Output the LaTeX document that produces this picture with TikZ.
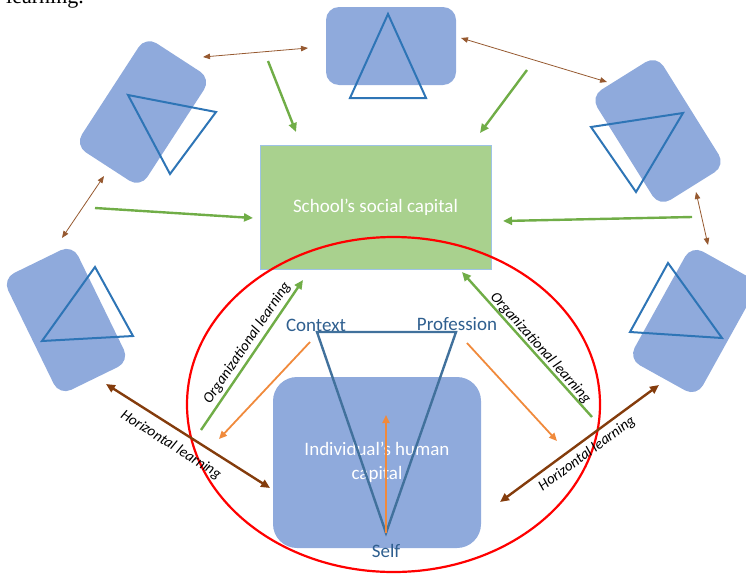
\documentclass[tikz,border=0pt]{standalone}
\usepackage{fontspec}
\setmainfont{Carlito}
\newfontfamily\docfont{Liberation Serif}
\usetikzlibrary{positioning, arrows.meta, shapes.geometric}

\definecolor{peerblue}{HTML}{8FAADC}
\definecolor{triblue}{HTML}{2E75B6}
\definecolor{coreblue}{HTML}{41719C}
\definecolor{coretext}{HTML}{2F5F8F}
\definecolor{leafgreen}{HTML}{70AD47}
\definecolor{boxgreen}{HTML}{A9D18E}
\definecolor{boxedge}{HTML}{9DC3E6}
\definecolor{flow}{HTML}{F08A3C}
\definecolor{bark}{HTML}{843C0C}

\tikzstyle{Link} = [draw=bark!85!white, line width=0.8pt,
    >={Triangle[length=7pt, width=5.5pt]}, <->]
\tikzstyle{Feed} = [draw=leafgreen, line width=2.4pt,
    >={Triangle[length=9pt, width=8pt]}, ->]
\tikzstyle{Peer} = [draw=bark, line width=2.4pt,
    >={Triangle[length=9pt, width=8pt]}, <->]
\tikzstyle{Flow} = [draw=flow, line width=1.8pt,
    >={Triangle[length=8pt, width=7pt]}, ->]

\begin{document}
\begin{tikzpicture}[x=1pt, y=-1pt,
peer/.style = {rectangle, fill=peerblue, rounded corners=13pt,
    minimum width=130pt, minimum height=78pt, inner sep=0pt},
tri/.style = {draw=triblue, line width=2pt},
big/.style = {font=\fontsize{19}{24}\selectfont, text=white, align=center},
tag/.style = {font=\fontsize{19}{24}\selectfont, text=coretext,
    inner sep=0pt, anchor=base},
lbl/.style = {font=\fontsize{15}{17}\selectfont\itshape, sloped, inner sep=2pt}
]

\useasboundingbox (0,0) rectangle (746,573);

% end of the text line above the figure
\node[anchor=base west, inner sep=0pt, font=\docfont\fontsize{22}{26}\selectfont]
    (prev) at (6,3) {learning.};

% the other teachers
\node[peer, rotate=57] (peerTL) at (143,112) {};
\node[peer] (peerT) at (391,46) {};
\node[peer, rotate=-58] (peerTR) at (658,131) {};
\node[peer, rotate=-64] (peerL) at (66,320) {};
\node[peer, rotate=61] (peerR) at (694,321) {};

\draw[tri] (128,95) -- (216,112) -- (170,174) -- cycle;
\draw[tri] (388,14) -- (426,98) -- (350,98) -- cycle;
\draw[tri] (591,127) -- (683,113) -- (636,192) -- cycle;
\draw[tri] (95,267) -- (133,336) -- (42,341) -- cycle;
\draw[tri] (668,263) -- (722,338) -- (630,332) -- cycle;

\coordinate (tl-t) at (203,57);  \coordinate (t-tl) at (308,48);
\coordinate (t-tr) at (461,38);  \coordinate (tr-t) at (607,82);
\coordinate (tr-r) at (696,192); \coordinate (r-tr) at (708,245);
\coordinate (tl-l) at (104,176); \coordinate (l-tl) at (62,238);

\draw[Link] (tl-t) -- (t-tl);
\draw[Link] (t-tr) -- (tr-t);
\draw[Link] (tr-r) -- (r-tr);
\draw[Link] (tl-l) -- (l-tl);

% school
\node[rectangle, fill=boxgreen, draw=boxedge, line width=0.8pt,
    minimum width=231pt, minimum height=124pt, big] (social) at (375.5,207)
    {School’s social capital};

\coordinate (tl-s) at (268,61);  \coordinate (s-tl) at (296,132);
\coordinate (tr-s) at (527,70);  \coordinate (s-tr) at (480,133);
\coordinate (l-s) at (95,208);   \coordinate (s-l) at (253,218);
\coordinate (r-s) at (692,217);  \coordinate (s-r) at (503,221);

\draw[Feed] (tl-s) -- (s-tl);
\draw[Feed] (tr-s) -- (s-tr);
\draw[Feed] (l-s) -- (s-l);
\draw[Feed] (r-s) -- (s-r);

\node[ellipse, draw=red, line width=2.2pt, minimum width=413pt,
    minimum height=335pt, inner sep=0pt] (ring) at (393.5,404.5) {};

% individual
\node[rectangle, rounded corners=24pt, fill=peerblue, minimum width=208pt,
    minimum height=171pt, big] (human) at (377,462.5)
    {Individual’s human\\capital};

\coordinate (ctx) at (317,332);
\coordinate (prof) at (456,332);
\coordinate (self) at (386,533);
\draw[draw=coreblue, line width=2.4pt] (ctx) -- (prof) -- (self) -- cycle;

\node[tag] (ctxname) at (316,331.5) {Context};
\node[tag] (profname) at (457,330) {Profession};
\node[tag] (selfname) at (386,557.5) {Self};

\coordinate (selftop) at (386,415);
\coordinate (ctx-a) at (310,342);  \coordinate (ctx-b) at (219,439);
\coordinate (prof-a) at (467,343); \coordinate (prof-b) at (557,441);

\draw[Flow] (self) -- (selftop);
\draw[Flow] (ctx-a) -- (ctx-b);
\draw[Flow] (prof-a) -- (prof-b);

\coordinate (orgL-a) at (201,430); \coordinate (orgL-b) at (303,280);
\coordinate (orgR-a) at (462,272); \coordinate (orgR-b) at (592,417);

\draw[Feed] (orgL-a) -- node[lbl, above=1pt, pos=.54] (orgLname)
    {Organizational learning} (orgL-b);
\draw[Feed, <-] (orgR-a) -- node[lbl, above=-2pt, pos=.56] (orgRname)
    {Organizational learning} (orgR-b);

\coordinate (hzL-a) at (106,384); \coordinate (hzL-b) at (270,488);
\coordinate (hzR-a) at (500,502); \coordinate (hzR-b) at (659,385);

\draw[Peer] (hzL-a) -- node[lbl, below=7pt, pos=.45] (hzLname)
    {Horizontal learning} (hzL-b);
\draw[Peer] (hzR-a) -- node[lbl, below=3pt, pos=.5] (hzRname)
    {Horizontal learning} (hzR-b);

\end{tikzpicture}
\end{document}
